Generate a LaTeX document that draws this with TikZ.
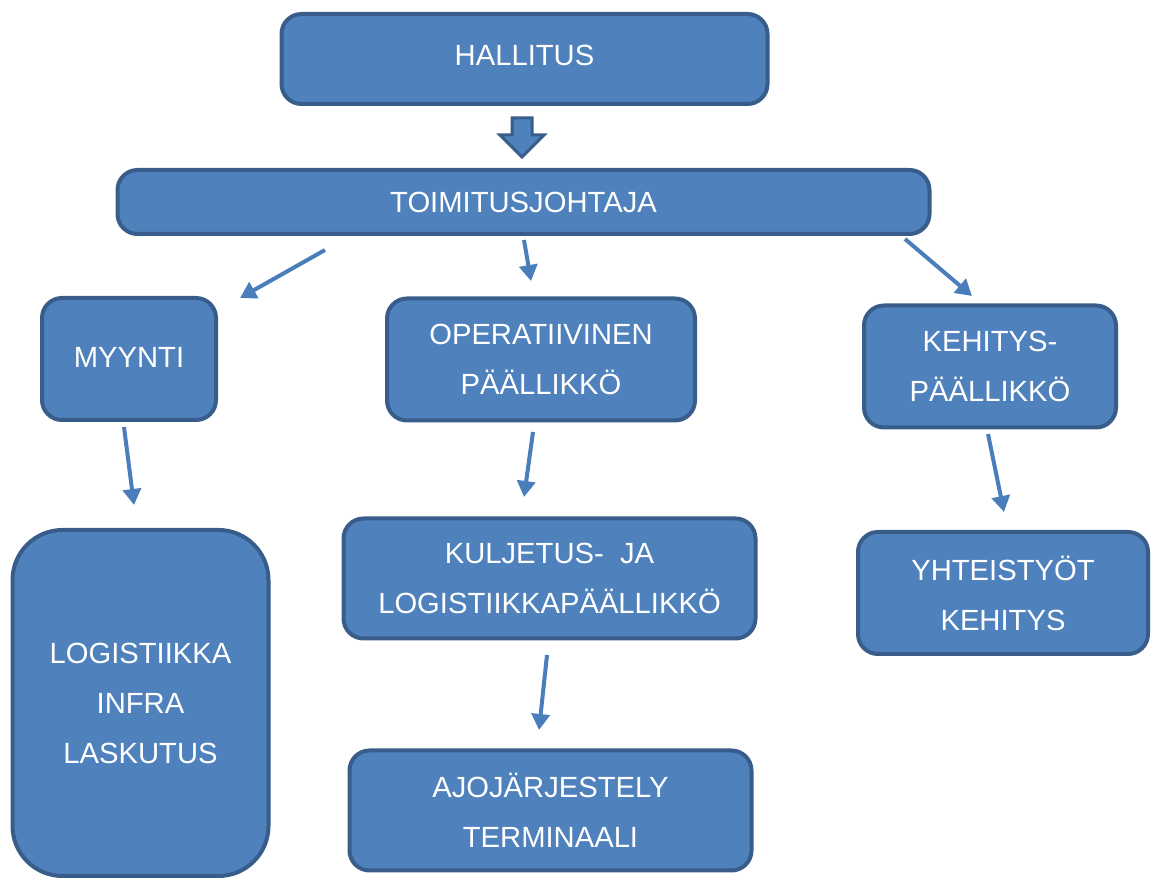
\documentclass[tikz,border=0pt]{standalone}
\usepackage{fontspec}
\setmainfont{Liberation Sans}
\usetikzlibrary{arrows.meta}
\definecolor{orgfill}{HTML}{4F81BD}
\definecolor{orgline}{HTML}{385D8A}
\definecolor{linkblue}{HTML}{4A7EBB}
\tikzset{
	align=center,
	unit/.style={
		draw=orgline,
		fill=orgfill,
		line width=2pt,
		rounded corners=10pt,
		inner sep=0pt,
		text=white,
		font=\fontsize{14.6}{25}\selectfont,
	},
	bigunit/.style={
		unit,
		rounded corners=25pt,
	},
	link/.style={
		draw=linkblue,
		line width=2pt,
		-{Triangle[length=8pt,width=9pt]}
	},
	blockarrow/.style={
		draw=orgline,
		fill=orgfill,
		line width=1.5pt,
	},
}

\begin{document}
\begin{tikzpicture}[x=0.5pt,y=-0.5pt]
		\useasboundingbox (0,0) rectangle (1153,881);

		\node[unit, minimum width=243pt, minimum height=45pt] (hallitus) at (524.5,59) {\raisebox{3.5pt}{HALLITUS}};
		\node[unit, minimum width=406pt, minimum height=32pt] (toimitus) at (523.5,202) {TOIMITUSJOHTAJA};

		\node[unit, minimum width=87pt, minimum height=61pt] 	(myynti) at (129,359) {\raisebox{2pt}{MYYNTI}};
		\node[unit, minimum width=154pt, minimum height=61pt] (operat) at (541,359.5) {OPERATIIVINEN\\PÄÄLLIKKÖ};
		\node[unit, minimum width=126pt, minimum height=61pt] (kehitys) at (990,366.5) {KEHITYS-\\PÄÄLLIKKÖ};

		\node[bigunit, minimum width=128pt, minimum height=173pt] (logist) at (140.5,703) {LOGISTIIKKA\\INFRA\\LASKUTUS};
		\node[unit, minimum width=206pt, minimum height=60pt] (kuljetus) at (549.5,578.5) {KULJETUS-\ \ JA\\LOGISTIIKKAPÄÄLLIKKÖ};
		\node[unit, minimum width=201pt, minimum height=60pt] (ajo) at (550.5,810.5) {AJOJÄRJESTELY\\TERMINAALI};
		\node[unit, minimum width=145pt, minimum height=61pt] (yhteis) at (1003,593) {YHTEISTYÖT\\KEHITYS};

		% block arrow hallitus -> toimitusjohtaja
		\draw[blockarrow] (512,118) -- (532,118) -- (532,135) -- (544,135) -- (522,157)
			-- (500,135) -- (512,135) -- cycle;

		% free ends of the thin arrows
		\coordinate (toim-myy) at (325,250);
		\coordinate (myy-top) at (240,298);
		\coordinate (toim-op) at (524,240);
		\coordinate (op-top) at (531,281);
		\coordinate (toim-keh) at (905,239);
		\coordinate (keh-top) at (972,296);
		\coordinate (myy-bot) at (124,427);
		\coordinate (log-top) at (134,505);
		\coordinate (op-bot) at (533,432);
		\coordinate (kul-top) at (524,497);
		\coordinate (keh-bot) at (988,434);
		\coordinate (yht-top) at (1004,512);
		\coordinate (kul-bot) at (547,655);
		\coordinate (ajo-top) at (539,730);

		\draw[link] (toim-myy) -- (myy-top);
		\draw[link] (toim-op) -- (op-top);
		\draw[link] (toim-keh) -- (keh-top);
		\draw[link] (myy-bot) -- (log-top);
		\draw[link] (op-bot) -- (kul-top);
		\draw[link] (keh-bot) -- (yht-top);
		\draw[link] (kul-bot) -- (ajo-top);

	\end{tikzpicture}
\end{document}
